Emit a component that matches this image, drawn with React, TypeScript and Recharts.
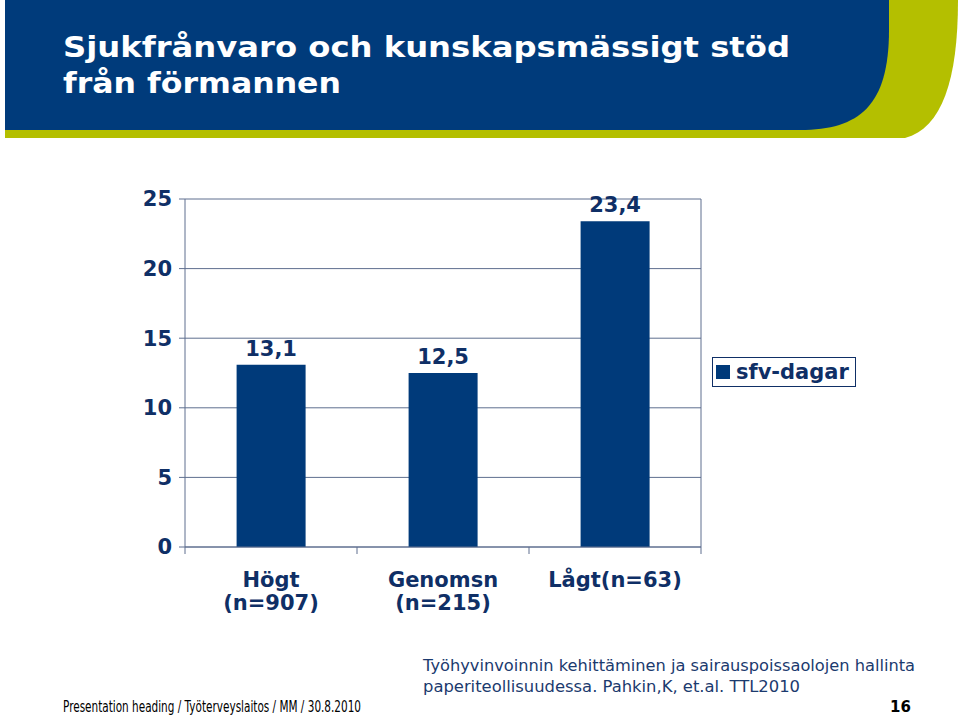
import React from "react";
import {
  BarChart,
  Bar,
  XAxis,
  YAxis,
  CartesianGrid,
  LabelList,
  Legend,
} from "recharts";

const categories = ["Högt|(n=907)", "Genomsn|(n=215)", "Lågt(n=63)"];
const sfvDagar = [13.1, 12.5, 23.4];
const yTicks = [0, 5, 10, 15, 20, 25];
const seriesName = "sfv-dagar";

const NAVY = "#0f2f66";
const BAR = "#003a7a";
const GRID = "#5f6f8f";
const FONT = "'DejaVu Sans', Verdana, sans-serif";

const data = categories.map((name, i) => ({ name, sfv: sfvDagar[i] }));

// category label plus tick marks at the band edges, as in Excel
function CategoryTick(props: any) {
  const { x, y, payload, index } = props;
  const half = payload.offset || 0;
  const lines = String(payload.value).split("|");
  const isLast = index === categories.length - 1;
  return (
    <g>
      <line x1={x - half} x2={x - half} y1={y} y2={y + 7} stroke={GRID} />
      {isLast && (
        <line x1={x + half} x2={x + half} y1={y} y2={y + 7} stroke={GRID} />
      )}
      <text
        x={x}
        y={y}
        textAnchor="middle"
        fill={NAVY}
        fontFamily={FONT}
        fontSize={21}
        fontWeight="bold"
      >
        {lines.map((l, i) => (
          <tspan key={i} x={x} dy={i === 0 ? 40 : 23}>
            {l}
          </tspan>
        ))}
      </text>
    </g>
  );
}

function LegendBox() {
  return (
    <div
      style={{
        width: 144,
        height: 30,
        border: `1px solid ${NAVY}`,
        background: "#fff",
        display: "flex",
        alignItems: "center",
        fontFamily: FONT,
        fontWeight: "bold",
        fontSize: 21,
        color: NAVY,
        boxSizing: "border-box",
        whiteSpace: "nowrap",
      }}
    >
      <span
        style={{
          display: "inline-block",
          width: 14,
          height: 14,
          background: BAR,
          marginLeft: 3,
          marginRight: 6,
        }}
      />
      {seriesName}
    </div>
  );
}

export default function App() {
  return (
    <div
      style={{
        position: "absolute",
        left: 0,
        top: 0,
        width: 960,
        height: 716,
        background: "#fff",
        overflow: "hidden",
      }}
    >
      <svg
        width={960}
        height={716}
        style={{ position: "absolute", left: 0, top: 0 }}
      >
        <path d="M5,0 H958 C958,80 942,128 905,138 H5 Z" fill="#b4bf00" />
        <path d="M5,0 H889 V30 C889,105 860,130 800,130 H5 Z" fill="#003b7b" />
        <text
          x={63}
          y={57}
          fill="#fff"
          fontFamily={FONT}
          fontWeight="bold"
          fontSize={29}
          textLength={727}
          lengthAdjust="spacingAndGlyphs"
        >
          Sjukfrånvaro och kunskapsmässigt stöd
        </text>
        <text
          x={63}
          y={93}
          fill="#fff"
          fontFamily={FONT}
          fontWeight="bold"
          fontSize={29}
          textLength={278}
          lengthAdjust="spacingAndGlyphs"
        >
          från förmannen
        </text>
        <text
          x={423}
          y={671}
          fill="#1b3a6e"
          fontFamily={FONT}
          fontSize={16}
          textLength={492}
          lengthAdjust="spacingAndGlyphs"
        >
          Työhyvinvoinnin kehittäminen ja sairauspoissaolojen hallinta
        </text>
        <text
          x={423}
          y={692}
          fill="#1b3a6e"
          fontFamily={FONT}
          fontSize={16}
          textLength={377}
          lengthAdjust="spacingAndGlyphs"
        >
          paperiteollisuudessa. Pahkin,K, et.al. TTL2010
        </text>
        <text
          x={63}
          y={712}
          fill="#000"
          fontFamily={FONT}
          fontSize={15}
          textLength={298}
          lengthAdjust="spacingAndGlyphs"
        >
          Presentation heading / Työterveyslaitos / MM / 30.8.2010
        </text>
        <text
          x={890}
          y={712}
          fill="#000"
          fontFamily={FONT}
          fontWeight="bold"
          fontSize={15}
        >
          16
        </text>
      </svg>
      <div style={{ position: "absolute", left: 0, top: 0 }}>
        <BarChart
          width={960}
          height={716}
          data={data}
          margin={{ top: 199, right: 258, bottom: 91, left: 125 }}
          barCategoryGap="30%"
        >
          <CartesianGrid vertical={false} stroke={GRID} strokeWidth={1} />
          <XAxis
            dataKey="name"
            height={78}
            axisLine={{ stroke: GRID }}
            tickLine={false}
            tickSize={0}
            tickMargin={0}
            interval={0}
            tick={<CategoryTick />}
          />
          <YAxis
            domain={[0, 25]}
            ticks={yTicks}
            width={60}
            tickSize={6}
            tickMargin={7}
            axisLine={{ stroke: GRID }}
            tickLine={{ stroke: GRID }}
            tick={{
              fill: NAVY,
              fontFamily: FONT,
              fontSize: 21,
              fontWeight: "bold",
            }}
          />
          <YAxis
            yAxisId="right"
            orientation="right"
            domain={[0, 25]}
            width={1}
            tick={false}
            tickLine={false}
            axisLine={{ stroke: GRID }}
          />
          <Legend
            layout="vertical"
            align="center"
            verticalAlign="middle"
            content={() => <LegendBox />}
            wrapperStyle={{ position: "absolute", left: 712, top: 357, width: 144 }}
          />
          <Bar dataKey="sfv" name={seriesName} fill={BAR} isAnimationActive={false}>
            <LabelList
              dataKey="sfv"
              position="top"
              offset={9}
              formatter={(v: any) => String(v).replace(".", ",")}
              fill={NAVY}
              fontFamily={FONT}
              fontSize={21}
              fontWeight="bold"
            />
          </Bar>
        </BarChart>
      </div>
    </div>
  );
}
